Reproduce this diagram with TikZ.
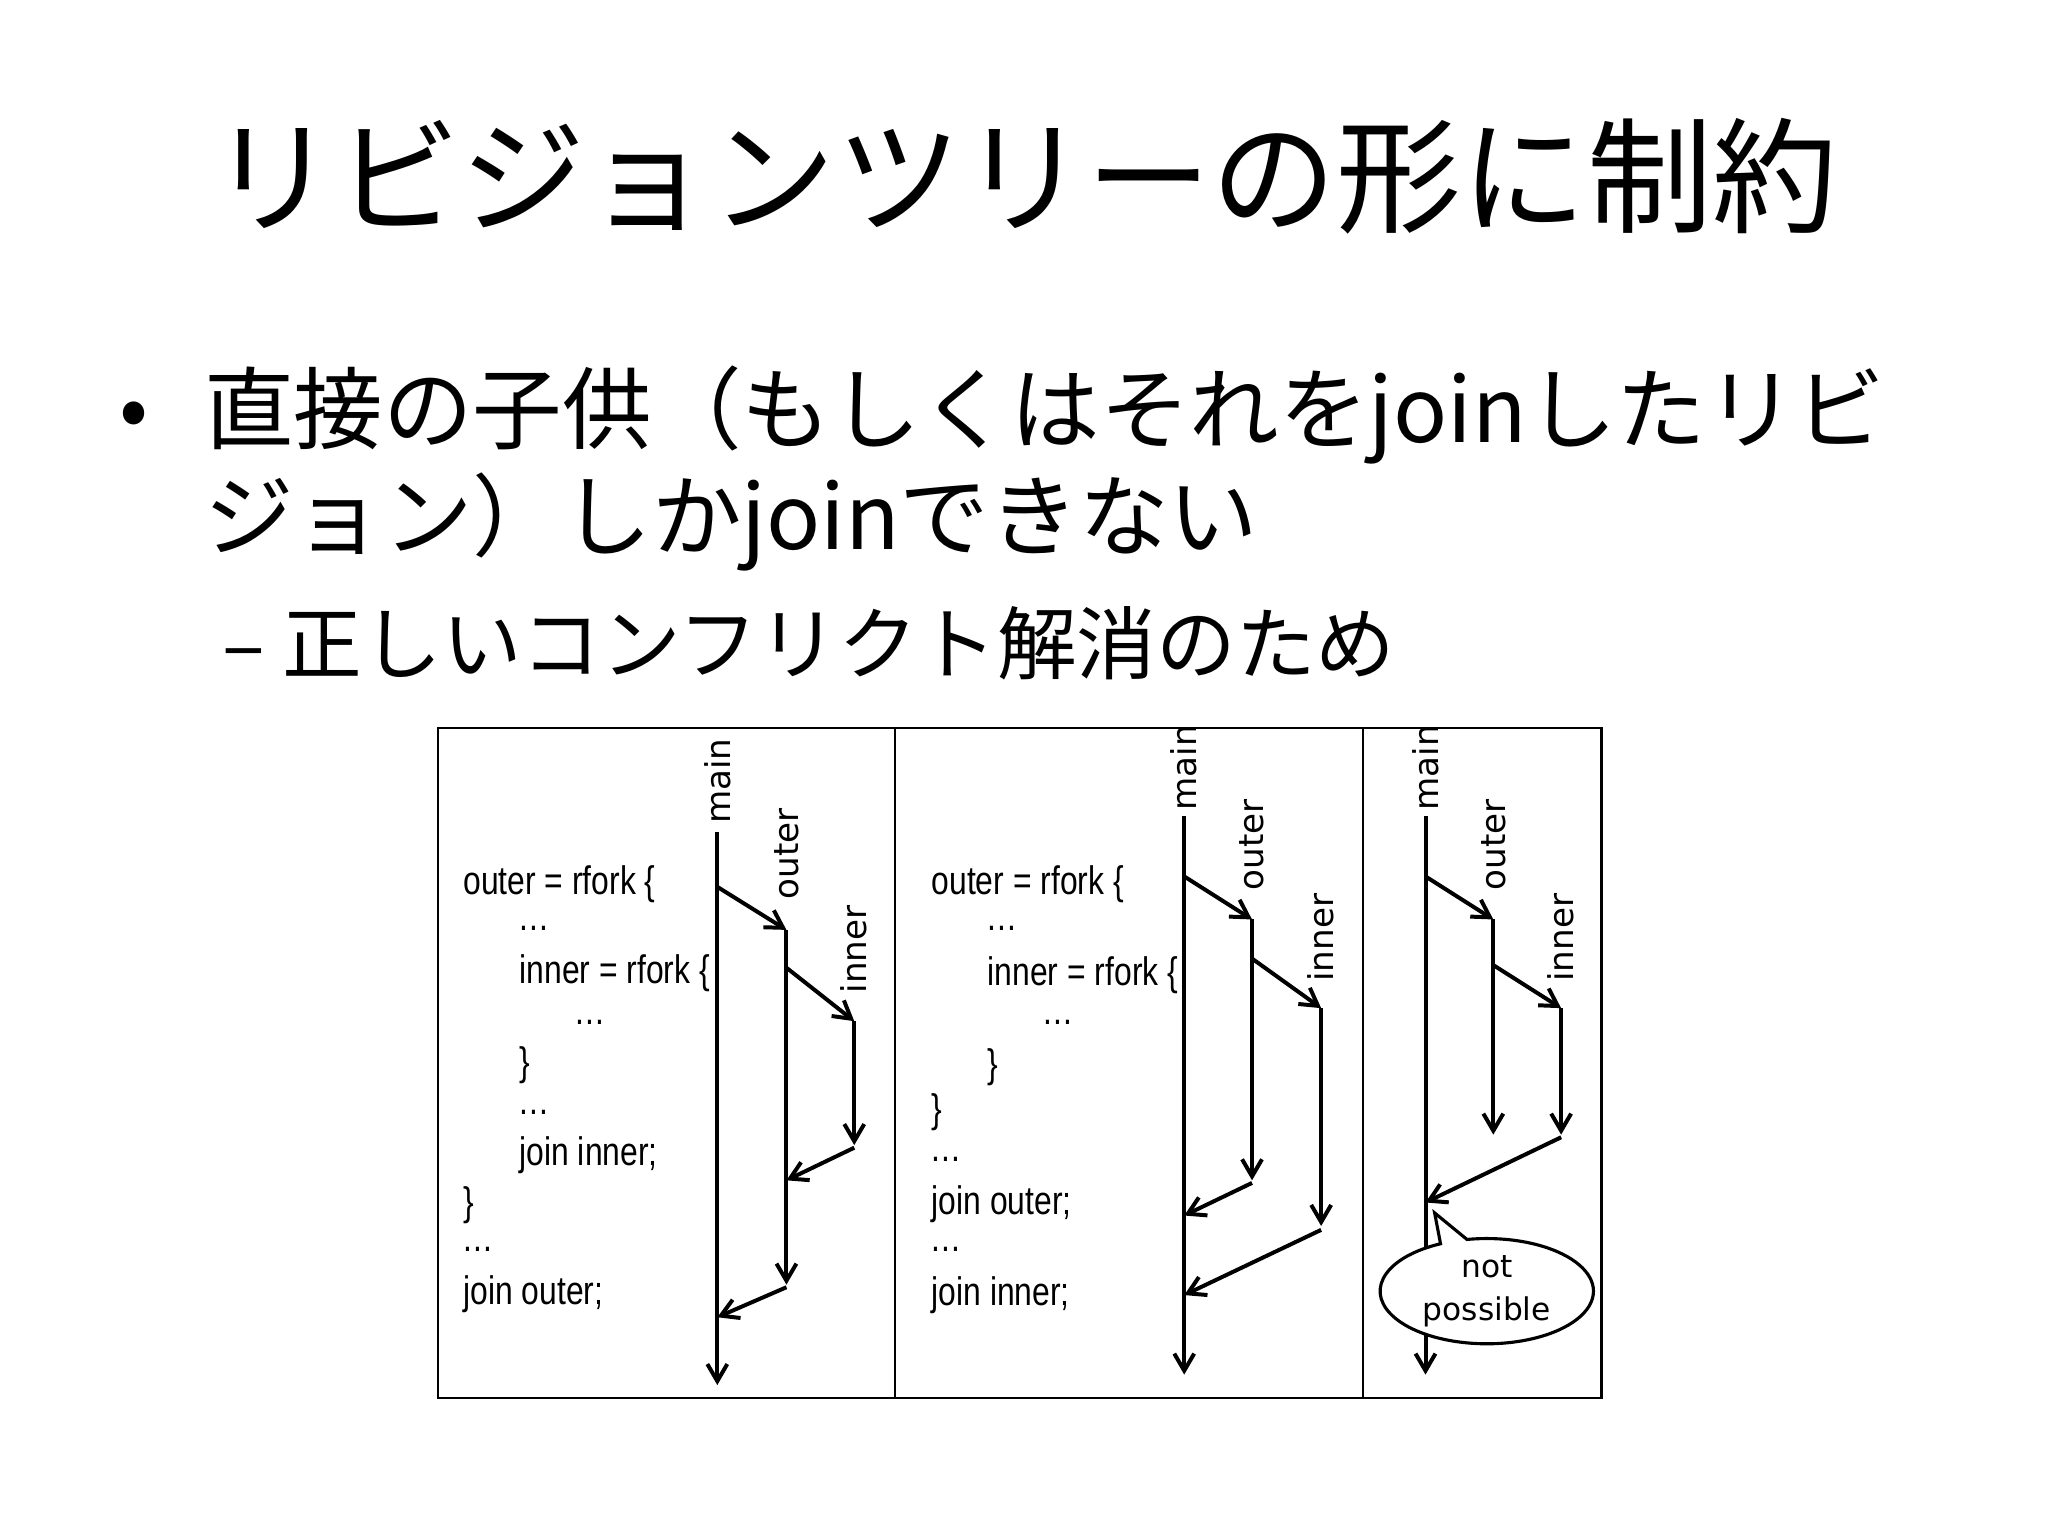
\documentclass[tikz,border=0pt]{standalone}
\usepackage{fontspec}
\setmainfont{Noto Sans CJK JP}
\newfontfamily\codefont{Liberation Sans}
\newfontfamily\lblfont{DejaVu Sans}
\usetikzlibrary{arrows.meta,shapes.callouts}
\newcommand{\dd}{.\kern0.5pt.\kern0.5pt.}
\begin{document}
\begin{tikzpicture}[x=0.4585pt,y=-0.4585pt,
  ln/.style={line width=1.4pt,-{Straight Barb[length=6pt,width=7pt,line width=1.4pt]}},
  code/.style={anchor=west,inner sep=0pt,font=\codefont\fontsize{14}{16}\selectfont,xscale=0.8},
  lbl/.style={anchor=west,rotate=90,inner sep=0pt,font=\lblfont\fontsize{12}{14}\selectfont}]
\useasboundingbox (0,0) rectangle (1570.3,1177.7);
\node (title) at (785,135) {\fontsize{44}{50}\selectfont リビジョンツリーの形に制約};
\node (bul) at (103,322) {\fontsize{30}{32}\selectfont •};
\node[anchor=west,inner sep=0pt] (l1) at (156,318) {\fontsize{31.5}{36}\selectfont 直接の子供（もしくはそれをjoinしたリビ};
\node[anchor=west,inner sep=0pt] (l2) at (156,400) {\fontsize{31.5}{36}\selectfont ジョン）しかjoinできない};
\node[anchor=west,inner sep=0pt] (l3) at (170,493) {\fontsize{28}{32}\selectfont – 正しいコンフリクト解消のため};
% frame
\draw[line width=0.8pt] (336,558) rectangle (1228,1072);
\draw[line width=0.8pt] (686,558) -- (686,1072);
\draw[line width=0.8pt] (1045,558) -- (1045,1072);
% panel 1
\foreach \t/\x/\y [count=\i] in {{outer = rfork \{}/355/678,{\dd}/398/712,{inner = rfork \{}/398/746,{\dd}/441/784,{\}}/398/817,{\dd}/398/853,{join inner;}/398/886,{\}}/355/924,{\dd}/355/958,{join outer;}/355/992}
  \node[code] (pa\i) at (\x,\y) {\t};
\node[lbl] (m1) at (550,632) {main};
\node[lbl] (o1) at (603,690) {outer};
\node[lbl] (n1) at (655,762) {inner};
\coordinate (a1) at (550,638); \coordinate (a2) at (550,1062);
\coordinate (a3) at (550,680); \coordinate (a4) at (603,713);
\coordinate (a5) at (603,985); \coordinate (a6) at (603,742);
\coordinate (a7) at (655,783); \coordinate (a8) at (655,878);
\coordinate (a9) at (655,880); \coordinate (a10) at (603,905);
\coordinate (a11) at (603,987); \coordinate (a12) at (550,1010);
\draw[ln] (a1) -- (a2);
\draw[ln] (a3) -- (a4);
\draw[ln] (a4) -- (a5);
\draw[ln] (a6) -- (a7);
\draw[ln] (a7) -- (a8);
\draw[ln] (a9) -- (a10);
\draw[ln] (a11) -- (a12);
% panel 2
\foreach \t/\x/\y [count=\i] in {{outer = rfork \{}/714/678,{\dd}/757/712,{inner = rfork \{}/757/748,{\dd}/800/784,{\}}/757/818,{\}}/714/853,{\dd}/714/889,{join outer;}/714/923,{\dd}/714/958,{join inner;}/714/993}
  \node[code] (pb\i) at (\x,\y) {\t};
\node[lbl] (m2) at (908,622) {main};
\node[lbl] (o2) at (960,683) {outer};
\node[lbl] (n2) at (1013,753) {inner};
\coordinate (b1) at (908,626); \coordinate (b2) at (908,1054);
\coordinate (b3) at (908,672); \coordinate (b4) at (960,705);
\coordinate (b5) at (960,905); \coordinate (b6) at (960,735);
\coordinate (b7) at (1013,773); \coordinate (b8) at (1013,940);
\coordinate (b9) at (960,907); \coordinate (b10) at (908,932);
\coordinate (b11) at (1013,943); \coordinate (b12) at (908,993);
\draw[ln] (b1) -- (b2);
\draw[ln] (b3) -- (b4);
\draw[ln] (b4) -- (b5);
\draw[ln] (b6) -- (b7);
\draw[ln] (b7) -- (b8);
\draw[ln] (b9) -- (b10);
\draw[ln] (b11) -- (b12);
% panel 3
\node[lbl] (m3) at (1093,622) {main};
\node[lbl] (o3) at (1145,683) {outer};
\node[lbl] (n3) at (1197,753) {inner};
\coordinate (c1) at (1093,626); \coordinate (c2) at (1093,1054);
\coordinate (c3) at (1093,672); \coordinate (c4) at (1145,705);
\coordinate (c5) at (1145,870); \coordinate (c6) at (1145,740);
\coordinate (c7) at (1197,773); \coordinate (c8) at (1197,870);
\coordinate (c9) at (1197,872); \coordinate (c10) at (1093,922);
\draw[ln] (c1) -- (c2);
\draw[ln] (c3) -- (c4);
\draw[ln] (c4) -- (c5);
\draw[ln] (c6) -- (c7);
\draw[ln] (c7) -- (c8);
\draw[ln] (c9) -- (c10);
\node[ellipse callout,draw,fill=white,line width=1.1pt,minimum width=75pt,minimum height=37pt,
  callout absolute pointer={(1100,930)},align=center,inner sep=0pt,font=\lblfont\fontsize{11}{15}\selectfont] (np) at (1140,990) {not\\possible};
\end{tikzpicture}
\end{document}
